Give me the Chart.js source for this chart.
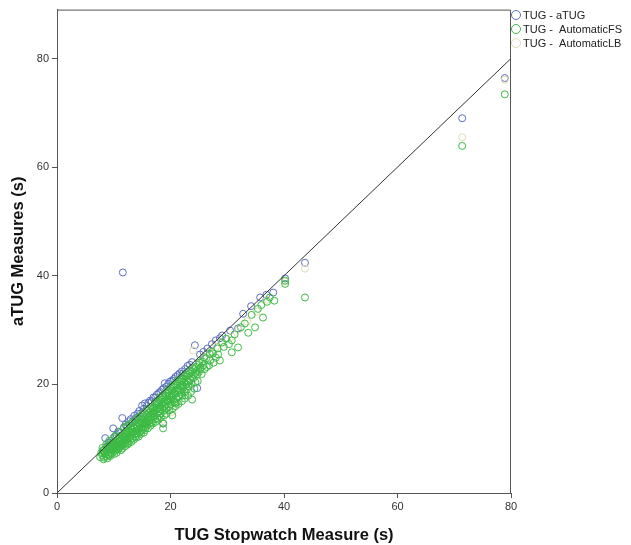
<!DOCTYPE html>
<html>
<head>
<meta charset="utf-8">
<script src="https://cdn.jsdelivr.net/npm/chart.js@4.4.0/dist/chart.umd.min.js"></script>
<style>
  html, body { margin: 0; padding: 0; background: #fff; }
  #wrap { width: 631px; height: 545px; position: relative; }
</style>
</head>
<body>
<div id="wrap"><canvas id="myChart"></canvas></div>
<script>
// values: [stopwatch, measure]
const aTugPoints = [
  [8.2,7.9],[8.5,10.1],[8.8,8.6],[9.1,9.3],[9.4,9.0],[9.9,11.9],[10.2,10.4],[10.5,10.7],[10.8,11.3],[11.1,11.0],
  [11.5,13.8],[11.6,40.6],[11.8,12.1],[12.1,12.6],[12.4,12.3],[12.7,13.2],[13.0,13.6],[13.3,13.1],[13.6,14.2],[13.9,13.8],
  [14.2,14.6],[14.5,15.1],[14.8,14.7],[15.0,16.1],[15.3,15.5],[15.5,16.5],[15.8,16.0],[16.1,16.6],[16.4,17.0],[16.7,16.9],
  [17.0,17.6],[17.3,17.6],[17.6,18.1],[17.9,18.4],[18.2,18.6],[18.5,19.0],[18.7,12.8],[18.8,19.3],[19.0,20.2],[19.3,19.6],
  [19.6,20.1],[19.9,20.5],[20.3,20.7],[20.6,21.0],[20.9,21.4],[21.3,21.7],[21.6,22.0],[22.0,22.4],[22.2,22.0],[22.6,22.8],
  [23.0,23.4],[23.4,23.6],[23.8,24.1],[24.3,27.2],[24.7,19.3],[25.2,25.5],[25.8,26.0],[26.5,26.6],[27.3,27.4],[28.0,28.1],
  [28.7,28.5],[29.1,29.0],[30.5,29.9],[31.9,30.3],[32.8,33.0],[34.2,34.4],[35.8,36.0],[36.9,36.5],[38.1,36.9],[40.2,39.5],
  [43.7,42.4],[71.4,69.0],[78.9,76.4]
]
const autoFsPoints = [
  [7.6,6.6],[7.8,7.4],[8.0,6.9],[8.1,7.8],[8.3,6.5],[8.4,7.3],[8.5,8.2],[8.6,6.8],[8.8,7.6],[8.9,8.5],[9.0,7.1],[9.1,6.9],
  [9.2,8.0],[9.3,8.8],[9.4,7.5],[9.5,8.4],[9.6,7.2],[9.7,9.1],[9.8,7.9],[9.9,8.6],[10.0,7.6],[10.0,9.3],
  [10.1,8.2],[10.2,9.0],[10.3,7.9],[10.4,9.6],[10.5,8.5],[10.6,9.2],[10.7,8.0],[10.8,9.9],[10.9,8.7],[11.0,9.4],[11.0,8.3],
  [11.1,10.2],[11.2,9.0],[11.3,8.6],[11.4,9.8],[11.5,10.6],[11.6,9.3],[11.7,8.9],[11.8,10.1],[11.9,9.6],[12.0,10.9],[12.0,9.1],
  [12.1,10.4],[12.2,9.7],[12.3,11.2],[12.4,10.0],[12.5,9.4],[12.6,10.8],[12.7,11.5],[12.8,10.2],[12.9,9.8],[13.0,11.0],[13.0,12.0],
  [13.1,10.5],[13.2,11.7],[13.3,10.1],[13.4,11.3],[13.5,12.3],[13.6,10.8],[13.7,11.9],[13.8,10.4],[13.9,12.6],[14.0,11.4],[14.0,11.0],
  [14.1,12.2],[14.2,10.9],[14.3,13.0],[14.4,11.7],[14.5,12.5],[14.6,11.2],[14.7,13.3],[14.8,12.0],[14.9,11.5],[15.0,12.8],[15.0,13.7],
  [15.1,12.3],[15.2,11.8],[15.3,13.4],[15.4,12.7],[15.5,14.1],[15.6,12.1],[15.7,13.1],[15.8,14.4],[15.9,12.6],[16.0,13.8],[16.0,12.9],
  [16.1,14.7],[16.2,13.3],[16.3,12.8],[16.4,14.2],[16.5,15.0],[16.6,13.6],[16.7,13.0],[16.8,14.6],[16.9,15.5],[17.0,13.9],[17.0,14.8],
  [17.1,15.8],[17.2,14.3],[17.3,13.6],[17.4,15.2],[17.5,16.2],[17.6,14.7],[17.7,13.8],[17.8,15.6],[17.9,16.6],[18.0,15.0],[18.0,14.2],
  [18.1,16.9],[18.2,15.4],[18.3,14.6],[18.4,16.3],[18.5,17.2],[18.6,15.8],[18.7,12.8],[18.7,11.9],[18.8,16.7],[18.9,17.6],[19.0,15.2],[19.0,16.1],
  [19.1,17.9],[19.2,16.4],[19.3,15.6],[19.4,17.3],[19.5,18.4],[19.6,16.9],[19.7,15.9],[19.8,17.8],[19.9,18.9],[20.0,17.2],[20.0,16.3],
  [20.1,19.2],[20.2,17.6],[20.3,14.3],[20.4,18.3],[20.5,19.5],[20.6,17.9],[20.7,16.8],[20.8,16.5],[20.9,18.8],[21.0,19.8],[21.0,17.4],
  [21.1,16.7],[21.2,18.6],[21.3,20.1],[21.4,19.2],[21.5,17.8],[21.6,20.5],[21.7,18.9],[21.8,19.6],[21.9,18.2],[22.0,20.8],[22.0,19.9],
  [22.1,17.9],[22.2,21.1],[22.3,19.4],[22.4,20.4],[22.5,18.6],[22.6,18.0],[22.7,21.4],[22.8,20.0],[22.9,19.1],[23.0,21.7],[23.0,20.6],
  [23.2,19.6],[23.4,22.0],[23.5,20.9],[23.6,21.5],[23.8,17.2],[23.8,22.4],[24.0,21.1],[24.2,22.8],[24.4,20.4],[24.5,23.2],[24.7,21.8],[24.9,23.6],[25.0,22.3],
  [25.3,23.1],[25.6,24.2],[26.0,22.8],[26.3,24.8],[26.8,23.5],[27.0,24.4],[27.3,26.0],[27.5,25.7],[28.0,24.9],[28.3,26.6],[28.7,24.4],[29.1,27.7],[29.4,26.9],[29.8,28.4],
  [30.3,27.4],[30.8,28.1],[30.8,25.9],[31.3,29.2],[31.9,26.8],[32.4,30.5],[33.1,31.2],[33.7,29.5],[34.3,32.8],[34.9,30.5],[35.4,33.9],[36.0,34.6],[36.3,32.3],
  [37.0,35.2],[37.5,36.0],[38.3,35.4],[40.2,39.1],[40.2,38.5],[43.7,36.0],[71.4,63.9],[78.9,73.4],
  // edges of the dense band
  [8.0,8.3],[8.2,6.2],[8.7,9.0],[8.9,6.4],[9.2,9.6],[9.4,6.8],[9.6,8.0],[9.9,10.1],[10.1,7.2],[10.3,10.5],[10.5,7.4],[10.8,8.1],
  [11.0,11.2],[11.3,7.9],[11.5,8.2],[11.8,11.9],[12.0,8.6],[12.2,12.3],[12.4,8.9],[12.6,9.1],[12.8,12.7],[13.1,9.4],[13.3,12.9],
  [13.5,9.8],[13.7,13.4],[14.0,10.2],[14.2,13.8],[14.4,10.4],[14.6,14.1],[14.8,10.9],[15.1,14.6],[15.3,11.1],[15.5,11.6],[15.8,15.1],
  [16.0,11.9],[16.2,15.6],[16.5,12.4],[16.7,15.9],[16.9,12.8],[17.2,16.5],[17.4,13.1],[17.6,16.9],[17.9,13.5],[18.1,17.6],[18.3,13.9],
  [18.6,18.0],[18.9,14.3],[19.1,18.4],[19.3,14.6],[19.6,18.9],[19.8,15.2],[20.1,19.6],[20.4,15.6],[20.6,19.9],[20.9,16.0],[21.2,20.6],
  [21.4,16.4],[21.7,21.0],[22.0,16.9],[22.3,21.6],[22.5,17.4],[22.8,22.0],[23.1,17.9],[23.3,22.5],[23.6,18.6],[23.9,23.0],[24.2,19.2],
  [24.5,22.1],[24.8,20.6],[25.1,24.0],[25.5,21.9],[25.9,25.0],[26.4,23.2],[26.9,25.6],[27.6,24.0],[28.4,25.5],
  // middle of the dense band
  [8.7,7.9],[9.3,8.3],[9.7,8.6],[10.2,8.7],[10.6,8.9],[11.1,9.6],[11.6,10.4],[12.1,10.1],[12.6,11.3],[13.2,11.1],[13.6,12.0],
  [14.1,11.9],[14.5,13.0],[15.2,13.0],[15.6,13.6],[16.1,13.9],[16.6,14.4],[17.1,15.1],[17.6,15.4],[18.1,15.8],[18.5,16.4],[19.0,16.8],
  [19.5,17.1],[19.9,17.9],[20.4,17.1],[20.8,18.3],[21.3,18.9],[21.8,18.6],[22.2,19.6],[22.7,19.9],[23.2,20.5],[23.7,20.1],[24.1,21.8],
  [24.6,22.5],[25.2,22.8],[25.8,23.5]
]
const autoLbPoints = [
  [8.3,7.2],[9.0,8.1],[9.8,8.9],[10.6,9.6],[11.4,10.3],[12.2,11.1],[13.0,11.8],[13.8,12.7],[14.6,13.4],[15.4,14.3],
  [16.2,15.0],[17.0,15.9],[17.8,16.6],[18.7,13.5],[18.6,17.4],[19.4,18.3],[20.2,19.0],[20.3,14.9],[21.0,19.8],[21.8,20.6],
  [22.6,21.3],[23.4,22.1],[24.0,26.2],[24.2,22.9],[25.0,23.8],[26.0,24.9],[27.0,25.8],[28.0,26.9],[29.0,27.8],[30.8,28.8],
  [32.0,30.1],[33.5,31.6],[35.2,33.4],[37.0,35.6],[40.2,38.9],[43.7,41.3],[71.4,65.5],[78.9,76.1]
]
const refLine = [[0,0],[80,80]]
const xTickValues = [0, 20, 40, 60, 80]
const yTickValues = [0, 20, 40, 60, 80]
const seriesNames = ['TUG - aTUG', 'TUG -  AutomaticFS', 'TUG -  AutomaticLB']
const seriesColors = ['#5b6fc2', '#3cba44', '#e2dab0']

const toXY = arr => arr.map(p => ({ x: p[0], y: p[1] }))
const font = 'Liberation Sans, Arial, sans-serif'

const framePlugin = {
  id: 'frame',
  afterDraw(chart) {
    const c = chart.ctx
    const a = chart.chartArea
    c.save()
    c.strokeStyle = '#555'
    c.lineWidth = 1
    c.beginPath()
    c.moveTo(a.left, a.top + 0.5)
    c.lineTo(a.right - 0.5, a.top + 0.5)
    c.lineTo(a.right - 0.5, a.bottom)
    c.stroke()
    // legend
    c.font = '11px ' + font
    c.textBaseline = 'middle'
    seriesNames.forEach((name, i) => {
      const y = 15 + i * 14
      c.strokeStyle = seriesColors[i]
      c.beginPath()
      c.arc(516, y, 4.5, 0, Math.PI * 2)
      c.stroke()
      c.fillStyle = '#222'
      c.fillText(name, 523, y + 1)
    })
    c.restore()
  }
}

const pointSet = (label, arr, color, order) => ({
  label: label,
  data: toXY(arr),
  borderColor: color,
  backgroundColor: 'rgba(0,0,0,0)',
  pointRadius: 3.5,
  pointBorderWidth: 1,
  order: order
})

const ctx = document.getElementById('myChart')
const myChart = new Chart(ctx, {
  type: 'scatter',
  data: {
    datasets: [
      pointSet(seriesNames[0], aTugPoints, seriesColors[0], 3),
      pointSet(seriesNames[1], autoFsPoints, seriesColors[1], 1),
      pointSet(seriesNames[2], autoLbPoints, seriesColors[2], 2),
      {
        type: 'line',
        label: 'ref',
        data: toXY(refLine),
        borderColor: '#333',
        borderWidth: 1,
        pointRadius: 0,
        fill: false,
        order: 0
      }
    ]
  },
  options: {
    responsive: true,
    maintainAspectRatio: false,
    animation: false,
    layout: { padding: { top: 8, right: 120, left: 0, bottom: 0 } },
    plugins: {
      legend: { display: false },
      tooltip: { enabled: false }
    },
    scales: {
      x: {
        type: 'linear',
        min: 0,
        max: 80,
        afterBuildTicks: s => { s.ticks = xTickValues.map(v => ({ value: v })) },
        afterFit: s => { s.height = 52 },
        grid: { drawOnChartArea: false, drawTicks: true, tickLength: 5, color: '#555' },
        border: { color: '#555', width: 1 },
        ticks: { color: '#333', font: { family: font, size: 11 }, padding: 2, maxRotation: 0 },
        title: {
          display: true,
          text: 'TUG Stopwatch Measure (s)',
          color: '#111',
          font: { family: font, size: 16.5, weight: 'bold' },
          padding: { top: 0, bottom: 0 }
        }
      },
      y: {
        type: 'linear',
        min: 0,
        max: 89,
        afterBuildTicks: s => { s.ticks = yTickValues.map(v => ({ value: v })) },
        afterFit: s => { s.width = 57 },
        grid: { drawOnChartArea: false, drawTicks: true, tickLength: 5, color: '#555' },
        border: { color: '#555', width: 1 },
        ticks: { color: '#333', font: { family: font, size: 11 }, padding: 3 },
        title: {
          display: true,
          text: 'aTUG Measures (s)',
          color: '#111',
          font: { family: font, size: 16.5, weight: 'bold' },
          padding: { top: 9, bottom: 0 }
        }
      }
    }
  },
  plugins: [framePlugin]
})
</script>
</body>
</html>
